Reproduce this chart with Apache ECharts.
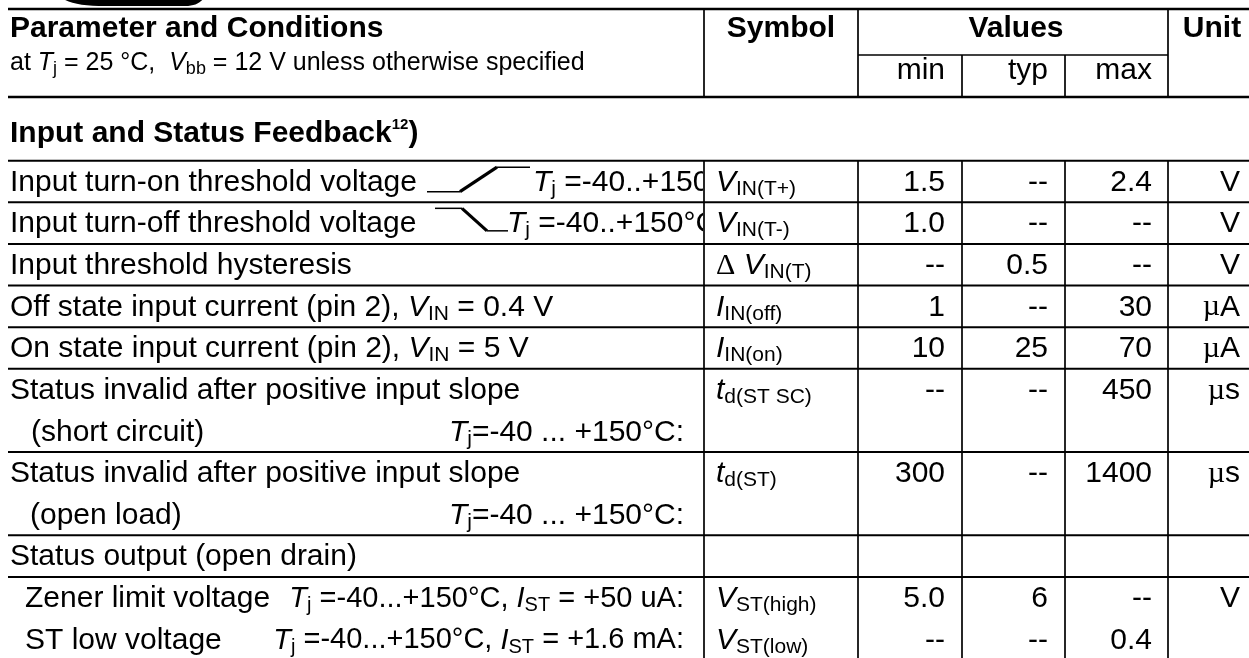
<!DOCTYPE html>
<html><head><meta charset="utf-8">
<script src="https://cdn.jsdelivr.net/npm/echarts@6/dist/echarts.min.js"></script>
<style>html,body{margin:0;padding:0;background:#fff}#c{width:1249px;height:658px}</style>
</head><body><div id="c"></div>
<script>
// ---------------- data ----------------
const headerTop = ['Parameter and Conditions', 'Symbol', 'Values', 'Unit'];
const headerSub = 'at {i|T}{s|j} = 25 °C,  {i|V}{s|bb} = 12 V unless otherwise specified';
const valueHeads = ['min', 'typ', 'max'];
const sectionTitle = '{b|Input and Status Feedback}{sup|12}{b|)}';
const paramText = [
  ['Input turn-on threshold voltage'],
  ['Input turn-off threshold voltage'],
  ['Input threshold hysteresis'],
  ['Off state input current (pin 2), {i|V}{s|IN} = 0.4 V'],
  ['On state input current (pin 2), {i|V}{s|IN} = 5 V'],
  ['Status invalid after positive input slope', '(short circuit)'],
  ['Status invalid after positive input slope', '(open load)'],
  ['Status output (open drain)'],
  ['Zener limit voltage'],
  ['ST low voltage']
];
const conditionText = [
  '{i|T}{s|j} =-40..+150°C',
  '{i|T}{s|j} =-40..+150°C',
  '', '', '',
  '{i|T}{s|j}=-40 ... +150°C:',
  '{i|T}{s|j}=-40 ... +150°C:',
  '',
  '{i|T}{s|j} =-40...+150°C, {i|I}{s|ST} = +50 uA:',
  '{i|T}{s|j} =-40...+150°C, {i|I}{s|ST} = +1.6 mA:'
];
const symbols = ['{i|V}{s|IN(T+)}', '{i|V}{s|IN(T-)}', '{g|Δ} {i|V}{s|IN(T)}', '{i|I}{s|IN(off)}', '{i|I}{s|IN(on)}',
  '{i|t}{s|d(ST SC)}', '{i|t}{s|d(ST)}', '', '{i|V}{s|ST(high)}', '{i|V}{s|ST(low)}'];
const minVals = ['1.5', '1.0', '--', '1', '10', '--', '300', '', '5.0', '--'];
const typVals = ['--', '--', '0.5', '--', '25', '--', '--', '', '6', '--'];
const maxVals = ['2.4', '--', '--', '30', '70', '450', '1400', '', '--', '0.4'];
const units = ['V', 'V', 'V', '{g|µ}A', '{g|µ}A', '{g|µ}s', '{g|µ}s', '', 'V', ''];
const rowSpan = [1, 1, 1, 1, 1, 2, 2, 1, 1, 1];
const ruleAbove = [1, 1, 1, 1, 1, 1, 1, 1, 1, 0];

// ---------------- layout ----------------
const L = {
  W: 1249, H: 658, x0: 8, textX: 10,
  cSym: 704, cMin: 858, cTyp: 962, cMax: 1065, cUnit: 1168,
  topRule: 9, valuesRule: 55, headRule: 97, bodyTop: 160.7, sub: 41.63, dy: 1,
  symX: 716, minR: 945, typR: 1048, maxR: 1152, unitR: 1240,
  condR: 684, condL: [533, 507], indent: {5: [10, 31], 6: [10, 30], 8: [25], 9: [25]}
};
const rowTops = [];
(function () { let t = L.bodyTop; rowSpan.forEach(s => { rowTops.push(t); t += s * L.sub; }); })();

const F = '"Liberation Sans", Arial, Helvetica, sans-serif';
const FSER = '"Liberation Serif", "DejaVu Serif", serif';
function rich(size, lh) {
  return {
    n: {fontFamily: F, fontSize: size, lineHeight: lh, fill: '#000'},
    i: {fontFamily: F, fontSize: size, fontStyle: 'italic', lineHeight: lh, fill: '#000'},
    s: {fontFamily: F, fontSize: Math.round(size * 0.7), lineHeight: Math.round(lh * 0.53), verticalAlign: 'bottom', fill: '#000'},
    g: {fontFamily: FSER, fontSize: size, lineHeight: lh, fill: '#000'},
    b: {fontFamily: F, fontSize: size, fontWeight: 'bold', lineHeight: lh, fill: '#000'},
    sup: {fontFamily: F, fontSize: 15, fontWeight: 'bold', lineHeight: 17, verticalAlign: 'top', fill: '#000'}
  };
}
function txt(p, text, o) {
  o = o || {};
  const size = o.size || 30, lh = o.lh || 34, align = o.align || 'left';
  return {
    type: 'text', x: p[0], y: p[1], silent: true,
    style: {
      text: text, fontFamily: F, fontSize: size, fontWeight: o.bold ? 'bold' : 'normal', fill: '#000',
      lineHeight: lh, align: align, textAlign: align, verticalAlign: 'middle', textVerticalAlign: 'middle',
      rich: rich(size, lh)
    }
  };
}
function seg(api, a, b, w) {
  const p = api.coord(a), q = api.coord(b);
  return {type: 'line', silent: true, shape: {x1: p[0], y1: p[1], x2: q[0], y2: q[1]}, style: {stroke: '#000', lineWidth: w}};
}

function renderFrame(params, api) {
  const ch = [];
  // top logo fragment
  ch.push({type: 'path', silent: true, shape: {pathData: 'M62,-2 C70,4 85,6 105,6 L185,6 C195,6 200,3 204,-2 Z'}, style: {fill: '#000'}});
  // horizontal rules
  ch.push(seg(api, [L.x0, L.topRule], [L.W, L.topRule], 2.4));
  ch.push(seg(api, [L.x0, L.headRule], [L.W, L.headRule], 2.4));
  ch.push(seg(api, [L.cMin, L.valuesRule], [L.cUnit, L.valuesRule], 1.5));
  rowTops.forEach((t, i) => { if (ruleAbove[i]) ch.push(seg(api, [L.x0, t], [L.W, t], 2)); });
  // header verticals
  [L.cSym, L.cMin, L.cUnit].forEach(x => ch.push(seg(api, [x, L.topRule], [x, L.headRule], 1.7)));
  [L.cTyp, L.cMax].forEach(x => ch.push(seg(api, [x, L.valuesRule], [x, L.headRule], 1.7)));
  // body verticals
  [L.cSym, L.cMin, L.cTyp, L.cMax, L.cUnit].forEach(x => ch.push(seg(api, [x, L.bodyTop], [x, L.H], 1.7)));
  // header texts
  ch.push(txt(api.coord([L.textX, 29]), headerTop[0], {bold: true}));
  ch.push(txt(api.coord([(L.cSym + L.cMin) / 2, 29]), headerTop[1], {bold: true, align: 'center'}));
  ch.push(txt(api.coord([1016, 29]), headerTop[2], {bold: true, align: 'center'}));
  ch.push(txt(api.coord([1212, 29]), headerTop[3], {bold: true, align: 'center'}));
  ch.push(txt(api.coord([L.textX, 63]), headerSub, {size: 25, lh: 30}));
  [L.minR, L.typR, L.maxR].forEach((x, k) => ch.push(txt(api.coord([x, 71]), valueHeads[k], {align: 'right'})));
  ch.push(txt(api.coord([L.textX, 134]), sectionTitle, {bold: true}));
  return {type: 'group', children: ch};
}

function renderRow(params, api) {
  const r = params.dataIndex;
  const top = rowTops[r];
  const ch = [];
  const yc = k => top + L.sub * (k + 0.5) + L.dy;
  paramText[r].forEach((t, k) => {
    const x = (L.indent[r] && L.indent[r][k] !== undefined) ? L.indent[r][k] : L.textX;
    ch.push(txt(api.coord([x, yc(k)]), t));
  });
  const c = conditionText[r];
  if (c) {
    if (r === 0 || r === 1) {
      const g = {type: 'group', children: [txt(api.coord([L.condL[r], yc(0)]), c)],
        clipPath: {type: 'rect', shape: {x: 0, y: 0, width: api.coord([L.cSym, 0])[0] - 1, height: L.H}}};
      ch.push(g);
    } else if (r === 5 || r === 6) {
      ch.push(txt(api.coord([L.condR, yc(1)]), c, {align: 'right'}));
    } else {
      ch.push(txt(api.coord([L.condR, yc(0)]), c, {align: 'right', size: 29}));
    }
  }
  // input slope pictograms
  if (r === 0) {
    ch.push(seg(api, [427, top + 31], [460, top + 31], 1.5));
    ch.push(seg(api, [460, top + 31], [497, top + 6.5], 3.2));
    ch.push(seg(api, [497, top + 6.5], [530, top + 6.5], 1.5));
  } else if (r === 1) {
    ch.push(seg(api, [435, top + 6], [462, top + 6], 1.5));
    ch.push(seg(api, [462, top + 6], [487, top + 28.5], 3.2));
    ch.push(seg(api, [487, top + 28.5], [508, top + 28.5], 1.5));
  }
  if (symbols[r]) ch.push(txt(api.coord([L.symX, yc(0)]), symbols[r]));
  if (minVals[r]) ch.push(txt(api.coord([L.minR, yc(0)]), minVals[r], {align: 'right'}));
  if (typVals[r]) ch.push(txt(api.coord([L.typR, yc(0)]), typVals[r], {align: 'right'}));
  if (maxVals[r]) ch.push(txt(api.coord([L.maxR, yc(0)]), maxVals[r], {align: 'right'}));
  if (units[r]) ch.push(txt(api.coord([L.unitR, yc(0)]), units[r], {align: 'right'}));
  return {type: 'group', children: ch};
}

const chart = echarts.init(document.getElementById('c'), null, {renderer: 'canvas'});
chart.setOption({
  animation: false,
  backgroundColor: '#fff',
  grid: {left: 0, right: 0, top: 0, bottom: 0},
  xAxis: {type: 'value', min: 0, max: L.W, show: false},
  yAxis: {type: 'value', min: 0, max: L.H, inverse: true, show: false},
  series: [
    {type: 'custom', coordinateSystem: 'cartesian2d', clip: false, silent: true, data: [[0, 0]], renderItem: renderFrame},
    {type: 'custom', coordinateSystem: 'cartesian2d', clip: false, silent: true,
      data: paramText.map((_, i) => [i, i]), renderItem: renderRow}
  ]
});
</script></body></html>
